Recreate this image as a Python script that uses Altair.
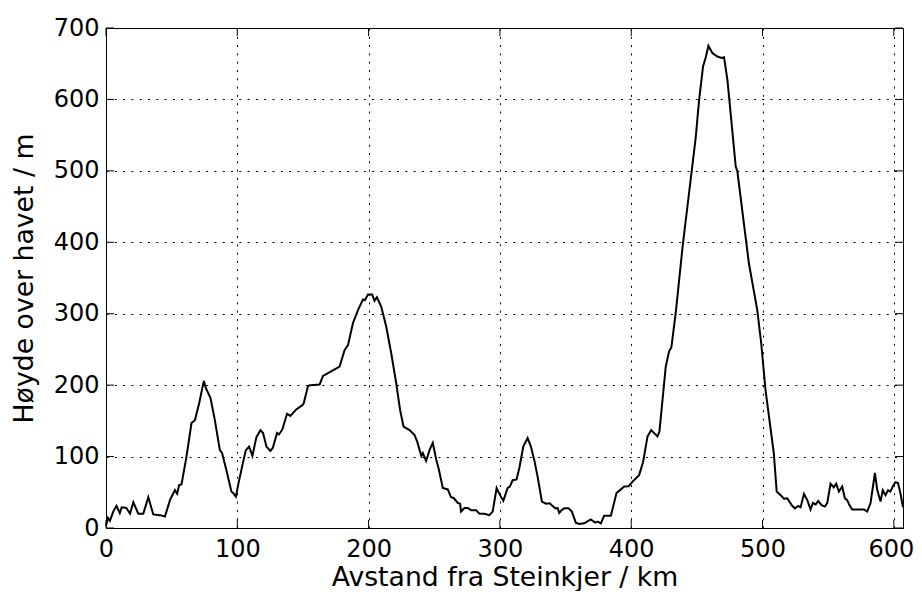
import altair as alt
import pandas as pd

# Distance from Steinkjer (km) and elevation (m)
dist_km = [0, 1.5, 3, 5.5, 8, 10.5, 12, 15.5, 18.3, 20.8, 24.6, 28.4, 32.2, 36, 41, 44.9,
           48.7, 52.5, 54.2, 55.7, 57.5, 61.3, 65.1, 67.7, 71, 74.5, 76, 79.6, 82.9, 86.7,
           88.4, 91.7, 95.5, 96.8, 98.9, 100.6, 103.9, 106.5, 109, 111.5, 114.5, 117.6,
           119.6, 122.2, 125.2, 127, 130.3, 131.8, 134.3, 137.9, 140.4, 144.9, 149.5, 150.5,
           153.9, 155.7, 162.7, 165.3, 177.9, 181.7, 184.3, 188.1, 191.9, 195.7, 197.2,
           199.5, 202.7, 204.5, 206.3, 209.6, 213.4, 217.2, 221, 224, 226.6, 231.2, 235,
           237, 240.1, 241.3, 243.8, 246.6, 248.9, 251.5, 253.5, 256.5, 260.3, 262.8, 264.8,
           267.9, 269.7, 270.4, 273, 275.5, 278, 281.8, 284.4, 288.2, 292, 294.5, 297.5,
           300.1, 302.6, 305.9, 307.6, 309.7, 312.7, 314.8, 317.8, 321.1, 323.6, 326.2,
           328.7, 332, 335.1, 338, 340, 342.2, 344, 345.2, 347, 349, 352.3, 354.8, 357.8,
           360.3, 364.2, 369.2, 372.6, 374.4, 376.9, 379.4, 384.5, 388.8, 390.8, 394.7, 398,
           401, 406, 409, 412.4, 415.2, 420, 421.5, 426.3, 428.8, 430.6, 433.9, 437.8, 439.2,
           449.1, 451.7, 454.7, 456.8, 458.8, 461.8, 465.6, 468.9, 470.7, 473.3, 479.6,
           480.8, 489.6, 496, 499, 502.3, 508.6, 510.8, 513.8, 516.3, 518.8, 522.6, 524.7,
           527.2, 529, 531.6, 534.1, 536.6, 538.4, 540.5, 542.4, 545, 547.5, 549.3, 551.8,
           554.3, 556.1, 558.2, 560.7, 562.7, 564.5, 566.2, 568.3, 577.2, 579.7, 582.3,
           585.6, 587.4, 589.9, 591.6, 593.7, 595.7, 597.4, 599.2, 601.2, 603.2, 605, 607]
height_m = [3, 14, 10, 23, 31, 21, 29, 28, 20, 36, 20, 20, 43, 19, 18, 16,
            39, 53, 48, 60, 61, 100, 147, 151, 175, 206, 196, 182, 151, 109,
            105, 81, 51, 49, 44, 60, 88, 109, 114, 101, 127, 137,
            133, 114, 108, 112, 133, 131, 138, 160, 157, 166, 172, 174,
            199, 200, 201, 213, 226, 249, 256, 287, 305, 320, 319,
            327, 327, 318, 323, 310, 282, 245, 203, 165, 142, 137, 130,
            121, 101, 105, 94, 110, 119, 96, 82, 56, 54, 43, 42,
            35, 34, 23, 28, 28, 25, 25, 20, 20, 18, 23, 56,
            46, 38, 56, 58, 67, 68, 84, 114, 126, 114, 95,
            72, 37, 34, 34.5, 31, 27.5, 28, 21, 25, 27.5, 27.5, 23, 7.5,
            5.6, 6.5, 12, 7.5, 9, 6.5, 17, 17, 49, 52, 58, 58.5,
            65, 74, 92, 128, 137, 128, 135, 226, 247, 253, 301, 370, 395,
            546, 599, 646, 659, 675, 665, 660, 658, 659, 627, 506,
            500, 371, 305, 259, 193, 105, 51, 46, 41, 41.6, 31, 27.5,
            31, 29, 47.6, 39, 26, 35, 33, 38, 32, 30, 35, 62,
            57, 62, 51, 58, 41.6, 39, 32, 26, 26, 23, 35,
            77, 53, 37, 53, 46, 53, 51, 58, 64, 63, 49, 29]

x_ticks = [0, 100, 200, 300, 400, 500, 600]
y_ticks = [0, 100, 200, 300, 400, 500, 600, 700]
x_title = "Avstand fra Steinkjer / km"
y_title = "Høyde over havet / m"

W, H = 797, 500
TICK = 8
FONT = "DejaVu Sans"

df = pd.DataFrame({"x": dist_km, "y": height_m})
xt = pd.DataFrame({"t": x_ticks})
yt = pd.DataFrame({"t": y_ticks})

xscale = alt.Scale(domain=[0, 607], nice=False, zero=False)
yscale = alt.Scale(domain=[0, 700], nice=False)

line = alt.Chart(df).mark_line(color="black", strokeWidth=2).encode(
    x=alt.X("x:Q", scale=xscale,
            axis=alt.Axis(values=x_ticks, title=x_title, format="d", ticks=False,
                          labelPadding=9, titlePadding=3, grid=True, labelFlush=False,
                          labelOffset={"condition": {"test": "datum.value == 600", "value": -3},
                                       "value": 0})),
    y=alt.Y("y:Q", scale=yscale,
            axis=alt.Axis(values=y_ticks, title=y_title, format="d", ticks=False,
                          labelPadding=7, titlePadding=15, grid=True, labelFlush=False)),
)

bottom_ticks = alt.Chart(xt).mark_rule(color="black", strokeWidth=1).encode(
    x=alt.X("t:Q", scale=xscale), y=alt.value(H), y2=alt.value(H - TICK))
top_ticks = alt.Chart(xt).mark_rule(color="black", strokeWidth=1).encode(
    x=alt.X("t:Q", scale=xscale), y=alt.value(0), y2=alt.value(TICK))
left_ticks = alt.Chart(yt).mark_rule(color="black", strokeWidth=1).encode(
    y=alt.Y("t:Q", scale=yscale), x=alt.value(0), x2=alt.value(TICK))
right_ticks = alt.Chart(yt).mark_rule(color="black", strokeWidth=1).encode(
    y=alt.Y("t:Q", scale=yscale), x=alt.value(W), x2=alt.value(W - TICK))

chart = alt.layer(line, bottom_ticks, top_ticks, left_ticks, right_ticks).properties(
    width=W, height=H,
    background="white",
    autosize=alt.AutoSizeParams(type="none"),
    padding={"left": 98, "top": 20, "right": 11, "bottom": 63},
).configure_view(
    stroke="black", strokeWidth=1
).configure_axis(
    domain=True, domainColor="black", domainWidth=1,
    grid=True, gridColor="black", gridDash=[2, 6.3], gridWidth=1, gridOpacity=1,
    labelFont=FONT, labelFontSize=24, labelColor="black",
    titleFont=FONT, titleFontSize=26.7, titleColor="black", titleFontWeight="normal",
)

chart.save("out.html", embed_options={"renderer": "svg", "actions": False})
